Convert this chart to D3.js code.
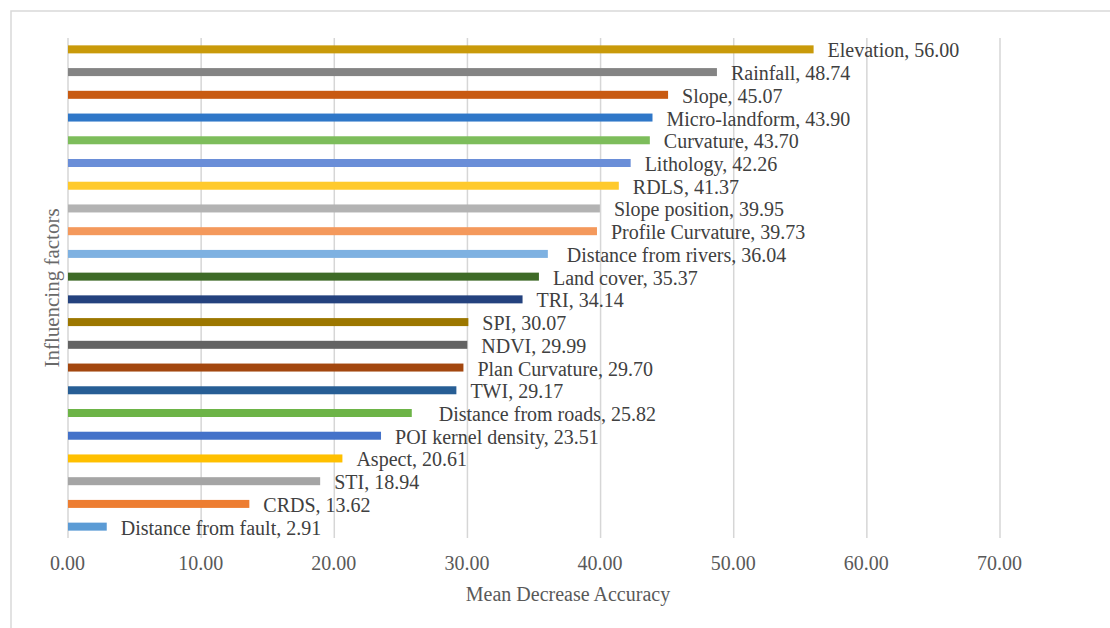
<!DOCTYPE html>
<html>
<head>
<meta charset="utf-8">
<script src="https://cdn.jsdelivr.net/npm/d3@7"></script>
<style>
  html, body { margin: 0; padding: 0; background: #fff; }
  svg { display: block; }
  text { font-family: "Liberation Serif", "DejaVu Serif", serif; }
</style>
</head>
<body>
<svg id="chart" width="1110" height="628"></svg>
<script>
const factors = ["Elevation", "Rainfall", "Slope", "Micro-landform", "Curvature", "Lithology", "RDLS",
  "Slope position", "Profile Curvature", "Distance from rivers", "Land cover", "TRI", "SPI", "NDVI",
  "Plan Curvature", "TWI", "Distance from roads", "POI kernel density", "Aspect", "STI", "CRDS",
  "Distance from fault"];
const values = [56.00, 48.74, 45.07, 43.90, 43.70, 42.26, 41.37, 39.95, 39.73, 36.04, 35.37, 34.14,
  30.07, 29.99, 29.70, 29.17, 25.82, 23.51, 20.61, 18.94, 13.62, 2.91];
const barColors = ["#C99A0A", "#848484", "#C85A12", "#2F77C8", "#7DBD5B", "#6A8ED8", "#FFCA2C",
  "#B3B3B3", "#F4995C", "#7EB1E1", "#3E6A27", "#24427E", "#9C7700", "#636363", "#A3470F", "#275E95",
  "#6DB447", "#4472C9", "#FFC000", "#A5A5A5", "#ED7D31", "#5B9BD5"];
const xTicks = [0, 10, 20, 30, 40, 50, 60, 70];
const xTitle = "Mean Decrease Accuracy";
const yTitle = "Influencing factors";

const svg = d3.select("#chart");
const plot = { left: 68, right: 1000, top: 38, bottom: 538 };

svg.append("rect").attr("x", 0).attr("y", 0).attr("width", 1110).attr("height", 628).attr("fill", "#fff");
svg.append("rect").attr("x", 11).attr("y", 11).attr("width", 1120).attr("height", 640)
  .attr("fill", "none").attr("stroke", "#d9d9d9").attr("stroke-width", 1.5);

const x = d3.scaleLinear().domain([0, 70]).range([plot.left, plot.right]);
const yb = d3.scaleBand().domain(factors).range([plot.top, plot.bottom]);

// gridlines
svg.append("g").selectAll("line").data(xTicks).join("line")
  .attr("x1", d => x(d)).attr("x2", d => x(d))
  .attr("y1", plot.top).attr("y2", plot.bottom)
  .attr("stroke", "#d6d6d6").attr("stroke-width", 1.5);

// axis labels via d3 axis
const axis = d3.axisBottom(x).tickValues(xTicks).tickFormat(d3.format(".2f")).tickSize(0).tickPadding(0);
const ax = svg.append("g").attr("transform", `translate(-1, 556)`).call(axis);
ax.select(".domain").remove();
ax.selectAll("text").attr("font-size", 20).attr("fill", "#595959")
  .attr("font-family", "'Liberation Serif', serif").attr("dy", "0.71em");

const barH = 8;
svg.append("g").selectAll("rect").data(values).join("rect")
  .attr("x", x(0))
  .attr("y", (d, i) => yb(factors[i]) + yb.bandwidth() / 2 - barH / 2)
  .attr("width", d => x(d) - x(0))
  .attr("height", barH)
  .attr("fill", (d, i) => barColors[i]);

// labels sit just outside bar ends; a couple were nudged further right in the original
const extraGap = { "Distance from rivers": 5, "Distance from roads": 13 };
svg.append("g").selectAll("text").data(values).join("text")
  .attr("x", (d, i) => x(d) + 14 + (extraGap[factors[i]] || 0))
  .attr("y", (d, i) => yb(factors[i]) + yb.bandwidth() / 2 + 8)
  .attr("font-size", 20).attr("fill", "#404040")
  .text((d, i) => `${factors[i]}, ${d.toFixed(2)}`);

svg.append("text").attr("x", (x(0) + x(70)) / 2 + 34).attr("y", 601)
  .attr("text-anchor", "middle").attr("font-size", 20).attr("fill", "#595959").text(xTitle);

svg.append("text").attr("transform", `translate(59, 288) rotate(-90)`)
  .attr("text-anchor", "middle").attr("font-size", 21).attr("fill", "#6a6a6a").text(yTitle);
</script>
</body>
</html>
